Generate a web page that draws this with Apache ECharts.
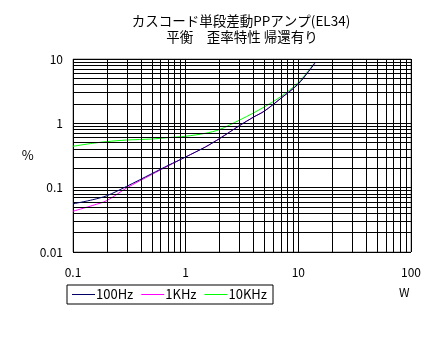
<!DOCTYPE html>
<html><head><meta charset="utf-8">
<script src="https://cdn.jsdelivr.net/npm/echarts@6/dist/echarts.min.js"></script>
<style>html,body{margin:0;padding:0;background:#fff}#c{width:437px;height:347px}</style>
</head><body><div id="c"></div>
<script>
// ---- data ----
const titleLines = ['カスコード単段差動PPアンプ(EL34)', '平衡　歪率特性 帰還有り'];
const xTickLabels = ['0.1', '1', '10', '100'];
const yTickLabels = ['0.01', '0.1', '1', '10'];
const xName = 'W';
const yName = '%';
const seriesNames = ['100Hz', '1KHz', '10KHz'];
const power = [0.1, 0.15, 0.2, 0.3, 0.5, 0.7, 1, 1.5, 2, 3, 4, 5, 7, 10, 14];
const dist100Hz = [0.056, 0.065, 0.075, 0.105, 0.165, 0.222, 0.30, 0.43, 0.58, 0.92, 1.25, 1.55, 2.45, 4.1, 8.6];
const dist1kHz  = [0.043, 0.053, 0.063, 0.099, 0.160, 0.218, 0.30, 0.43, 0.58, 0.92, 1.25, 1.55, 2.45, 4.1, 8.6];
const dist10kHz = [0.44, 0.49, 0.52, 0.55, 0.57, 0.60, 0.63, 0.70, 0.80, 1.12, 1.45, 1.8, 2.6, 4.3, 8.8];
const colors = ['#000066', '#ff00ff', '#00ff00'];

// ---- chart ----
const chart = echarts.init(document.getElementById('c'), null, {renderer: 'canvas'});
const font = '"Noto Sans CJK JP", "Noto Sans", sans-serif';
function pairs(ys) { return power.map((x, i) => [x, ys[i]]); }
const gridX = [], gridY = [];
for (let d = 0.1; d < 100; d *= 10) for (let m = 1; m <= 9; m++) gridX.push(+(d * m).toPrecision(3));
for (let d = 0.01; d < 10; d *= 10) for (let m = 1; m <= 9; m++) gridY.push(+(d * m).toPrecision(3));
const gridLines = gridX.filter(v => v > 0.1).map(v => ({xAxis: v}))
  .concat(gridY.filter(v => v > 0.01).map(v => ({yAxis: v})));

const allSeries = [dist100Hz, dist1kHz, dist10kHz].map((ys, i) => ({
  name: seriesNames[i], type: 'line', data: pairs(ys), symbol: 'none', smooth: 0.3,
  lineStyle: {color: colors[i], width: 1}, itemStyle: {color: colors[i]}, z: 5 - i,
  emphasis: {disabled: true}
}));
allSeries.push({
  type: 'line', data: [], silent: true, z: 1,
  markLine: {silent: true, symbol: 'none', label: {show: false},
    lineStyle: {color: '#000', width: 1, type: 'solid'}, animation: false, data: gridLines}
});

chart.setOption({
  animation: false,
  backgroundColor: '#fff',
  color: colors,
  graphic: [
    {type: 'text', x: 241, y: 14, style: {text: titleLines[0], textAlign: 'center', font: '13.5px ' + font, fill: '#000'}},
    {type: 'text', x: 242, y: 30, style: {text: titleLines[1], textAlign: 'center', font: '13.5px ' + font, fill: '#000'}},
    {type: 'text', x: 399, y: 286, style: {text: xName, font: '12px ' + font, fill: '#000'}}
  ],
  grid: {left: 73, top: 59, width: 338, height: 193, show: true, borderColor: '#888', borderWidth: 1, backgroundColor: 'transparent'},
  legend: {
    left: 67, top: 285, orient: 'horizontal', borderColor: '#000', borderWidth: 1, borderRadius: 0,
    padding: [3, 6, 3, 5], itemGap: 8, itemWidth: 23, itemHeight: 1,
    textStyle: {fontFamily: font, fontSize: 13, color: '#000', padding: [0, 0, 0, -4]},
    data: seriesNames.map(n => ({name: n, icon: 'rect'}))
  },
  xAxis: {
    type: 'log', logBase: 10, min: 0.1, max: 100,
    axisLine: {show: false}, axisTick: {show: false}, splitLine: {show: true, lineStyle: {color: '#000', width: 1}},
    axisLabel: {fontFamily: font, fontSize: 12, color: '#000', margin: 14,
      formatter: v => xTickLabels[Math.round(Math.log10(v)) + 1]}
  },
  yAxis: {
    type: 'log', logBase: 10, min: 0.01, max: 10,
    name: yName, nameLocation: 'middle', nameRotate: 0, nameGap: 32,
    nameTextStyle: {fontFamily: font, fontSize: 13, color: '#000'},
    axisLine: {show: false}, axisTick: {show: false}, splitLine: {show: true, lineStyle: {color: '#000', width: 1}},
    axisLabel: {fontFamily: font, fontSize: 12, color: '#000', margin: 10,
      formatter: v => yTickLabels[Math.round(Math.log10(v)) + 2]}
  },
  series: allSeries
});
</script></body></html>
